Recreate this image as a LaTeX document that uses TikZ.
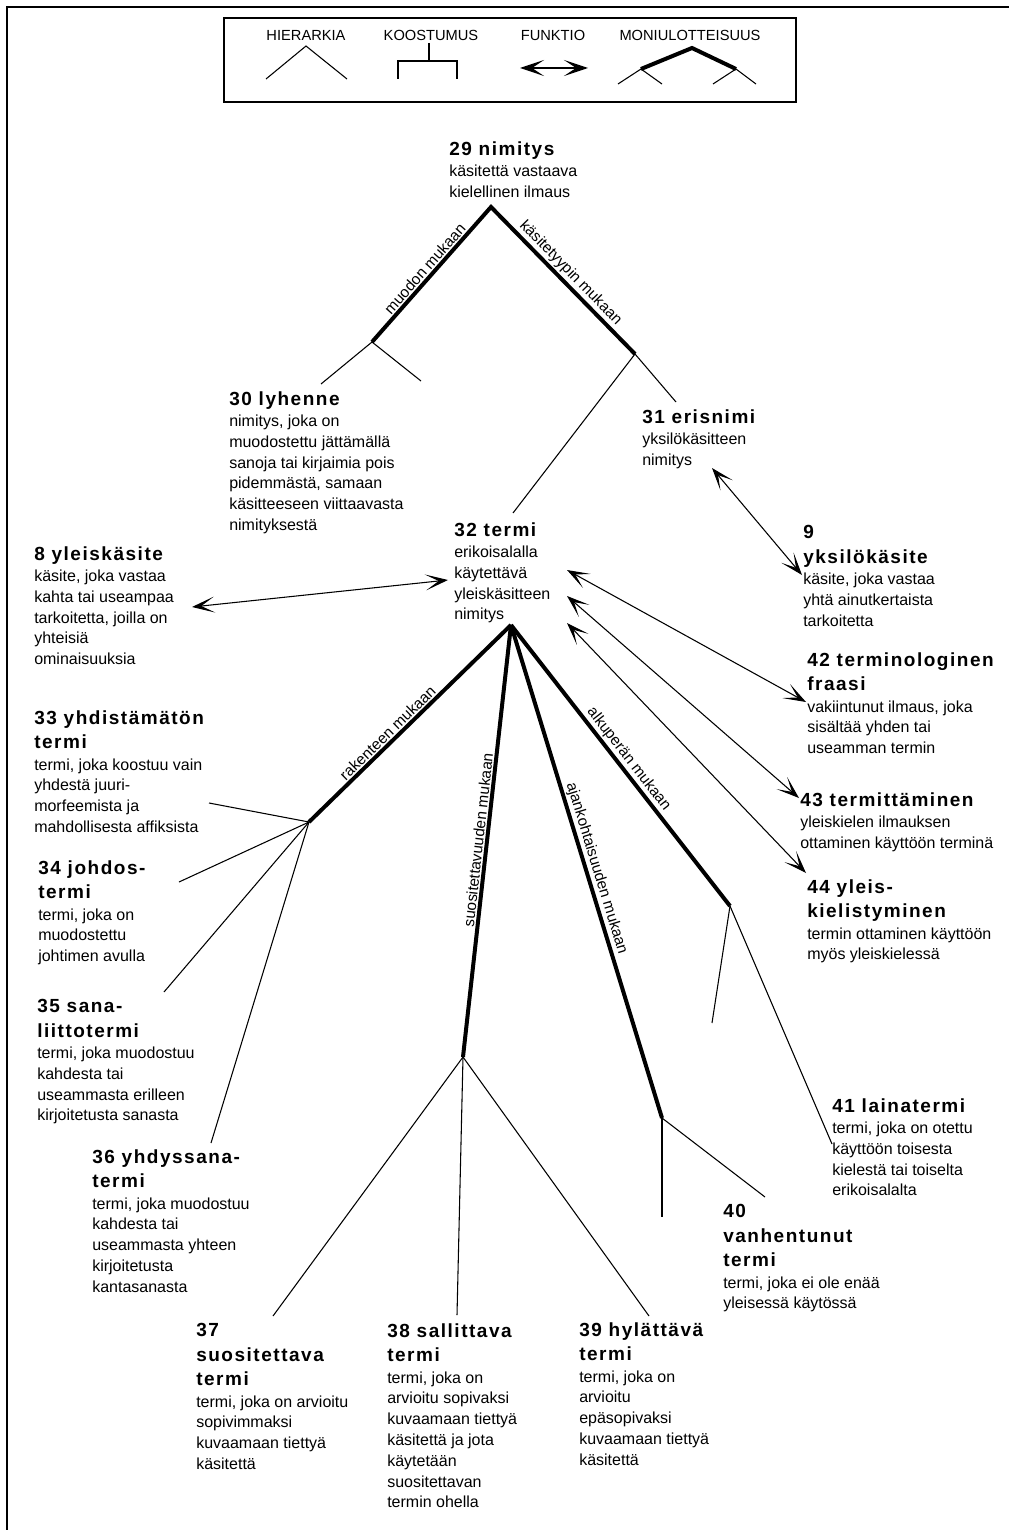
\documentclass[tikz,border=0pt]{standalone}
\usepackage{fontspec}
\setmainfont{Liberation Sans}
\newfontfamily\headfont[LetterSpace=8]{Liberation Sans}
\usetikzlibrary{arrows.meta}
\newcommand{\hd}[1]{{\headfont\bfseries\fontsize{14.25}{18}\selectfont #1}}
\tikzset{
  frame/.style={draw=black, line width=1.4pt},
  concept/.style={anchor=north west, inner sep=0pt, align=left,
    font=\fontsize{12}{15.6}\selectfont},
  hier/.style={line width=0.8pt},
  multi/.style={line width=3pt},
  crit/.style={sloped, above, inner sep=1pt, font=\fontsize{11.5}{13}\selectfont},
  func/.style={line width=0.8pt,
    {Stealth[length=17pt,width=12pt,inset=10pt]}-{Stealth[length=17pt,width=12pt,inset=10pt]}},
  legtxt/.style={anchor=base, inner sep=0pt, font=\fontsize{11}{13}\selectfont},
}

\begin{document}
\begin{tikzpicture}[x=0.75pt,y=-0.75pt]
  \useasboundingbox (0,0) rectangle (1008,1530);
  \draw[frame] (7,7) rectangle (1040,1560);

  % legend
  \draw[frame] (224,18) rectangle (796,102);
  \node[legtxt] (lhier) at (306,41) {HIERARKIA};
  \node[legtxt] (lkoos) at (431,41) {KOOSTUMUS};
  \node[legtxt] (lfunk) at (553,41) {FUNKTIO};
  \node[legtxt] (lmoni) at (690,41) {MONIULOTTEISUUS};
  \draw[hier] (266,79) -- (306,46) -- (347,79);
  \draw[hier] (429,43) -- (429,61);
  \draw[hier] (398,79) -- (398,61) -- (457,61) -- (457,79);
  \draw[line width=1pt, {Stealth[length=18pt,width=12pt,inset=9pt]}-{Stealth[length=18pt,width=12pt,inset=9pt]}]
    (520,68) -- (588,68);
  \draw[multi] (641,69) -- (692,48) -- (736,69);
  \draw[hier] (618,84) -- (641,69) -- (662,84);
  \draw[hier] (713,84) -- (736,69) -- (756,84);

  % concepts
  \node[concept] (n29) at (449,141) {\hd{29 nimitys}\\[0.5pt] käsitettä vastaava\\ kielellinen ilmaus};
  \node[concept] (n30) at (229,391) {\hd{30 lyhenne}\\[0.5pt] nimitys, joka on\\ muodostettu jättämällä\\ sanoja tai kirjaimia pois\\ pidemmästä, samaan\\ käsitteeseen viittaavasta\\ nimityksestä};
  \node[concept] (n31) at (642,409) {\hd{31 erisnimi}\\[0.5pt] yksilökäsitteen\\ nimitys};
  \node[concept] (n32) at (454,522) {\hd{32 termi}\\[0.5pt] erikoisalalla\\ käytettävä\\ yleiskäsitteen\\ nimitys};
  \node[concept] (n8) at (34,546) {\hd{8 yleiskäsite}\\[0.5pt] käsite, joka vastaa\\ kahta tai useampaa\\ tarkoitetta, joilla on\\ yhteisiä\\ ominaisuuksia};
  \node[concept] (n9) at (803,525) {\hd{9}\\[2.8pt] \hd{yksilökäsite}\\[0.5pt] käsite, joka vastaa\\ yhtä ainutkertaista\\ tarkoitetta};
  \node[concept] (n42) at (807,652) {\hd{42 terminologinen}\\[2.8pt] \hd{fraasi}\\[0.5pt] vakiintunut ilmaus, joka\\ sisältää yhden tai\\ useamman termin};
  \node[concept] (n43) at (800,792) {\hd{43 termittäminen}\\[0.5pt] yleiskielen ilmauksen\\ ottaminen käyttöön terminä};
  \node[concept] (n44) at (807,879) {\hd{44 yleis-}\\[2.8pt] \hd{kielistyminen}\\[0.5pt] termin ottaminen käyttöön\\ myös yleiskielessä};
  \node[concept] (n33) at (34,710) {\hd{33 yhdistämätön}\\[2.8pt] \hd{termi}\\[0.5pt] termi, joka koostuu vain\\ yhdestä juuri-\\ morfeemista ja\\ mahdollisesta affiksista};
  \node[concept] (n34) at (38,860) {\hd{34 johdos-}\\[2.8pt] \hd{termi}\\[0.5pt] termi, joka on\\ muodostettu\\ johtimen avulla};
  \node[concept] (n35) at (37,999) {\hd{35 sana-}\\[2.8pt] \hd{liittotermi}\\[0.5pt] termi, joka muodostuu\\ kahdesta tai\\ useammasta erilleen\\ kirjoitetusta sanasta};
  \node[concept] (n36) at (92,1149) {\hd{36 yhdyssana-}\\[2.8pt] \hd{termi}\\[0.5pt] termi, joka muodostuu\\ kahdesta tai\\ useammasta yhteen\\ kirjoitetusta\\ kantasanasta};
  \node[concept] (n37) at (196,1323) {\hd{37}\\[2.8pt] \hd{suositettava}\\[2.8pt] \hd{termi}\\[0.5pt] termi, joka on arvioitu\\ sopivimmaksi\\ kuvaamaan tiettyä\\ käsitettä};
  \node[concept] (n38) at (387,1323) {\hd{38 sallittava}\\[2.8pt] \hd{termi}\\[0.5pt] termi, joka on\\ arvioitu sopivaksi\\ kuvaamaan tiettyä\\ käsitettä ja jota\\ käytetään\\ suositettavan\\ termin ohella};
  \node[concept] (n39) at (579,1322) {\hd{39 hylättävä}\\[2.8pt] \hd{termi}\\[0.5pt] termi, joka on\\ arvioitu\\ epäsopivaksi\\ kuvaamaan tiettyä\\ käsitettä};
  \node[concept] (n40) at (723,1204) {\hd{40}\\[2.8pt] \hd{vanhentunut}\\[2.8pt] \hd{termi}\\[0.5pt] termi, joka ei ole enää\\ yleisessä käytössä};
  \node[concept] (n41) at (832,1098) {\hd{41 lainatermi}\\[0.5pt] termi, joka on otettu\\ käyttöön toisesta\\ kielestä tai toiselta\\ erikoisalalta};

  % branch points and line ends
  \coordinate (a29) at (491,207);
  \coordinate (j30) at (372,342);
  \coordinate (j31) at (635,354);
  \coordinate (e30a) at (321,384);
  \coordinate (e30b) at (421,381);
  \coordinate (e31) at (676,402);
  \coordinate (e32) at (513,513);
  \coordinate (a32) at (511,625);
  \coordinate (j33) at (309,822);
  \coordinate (e33) at (209,803);
  \coordinate (e34) at (179,882);
  \coordinate (e35) at (164,992);
  \coordinate (e36) at (211,1143);
  \coordinate (j37) at (463,1057);
  \coordinate (e37) at (273,1316);
  \coordinate (e38) at (457,1315);
  \coordinate (e39) at (649,1316);
  \coordinate (j40) at (662,1118);
  \coordinate (e40a) at (662,1217);
  \coordinate (e40b) at (765,1197);
  \coordinate (j41) at (730,906);
  \coordinate (e41a) at (712,1023);
  \coordinate (e41b) at (832,1144);

  % upper tree
  \draw[multi] (j30) -- node[crit] {muodon mukaan} (a29)
    -- node[crit] {käsitetyypin mukaan} (j31);
  \draw[hier] (e30a) -- (j30) -- (e30b);
  \draw[hier] (e32) -- (j31) -- (e31);

  % lower tree
  \draw[multi] (a32) -- node[crit, pos=.58] {rakenteen mukaan} (j33);
  \draw[multi] (a32) -- node[crit] {suositettavuuden mukaan} (j37);
  \draw[multi] (a32) -- node[crit] {ajankohtaisuuden mukaan} (j40);
  \draw[multi] (a32) -- node[crit] {alkuperän mukaan} (j41);
  \foreach \e in {e33,e34,e35,e36} \draw[hier] (j33) -- (\e);
  \foreach \e in {e37,e38,e39} \draw[hier] (j37) -- (\e);
  \foreach \e in {e40a,e40b} \draw[hier] (j40) -- (\e);
  \foreach \e in {e41a,e41b} \draw[hier] (j41) -- (\e);

  % functional relations
  \coordinate (f8) at (192,607);
  \coordinate (f32a) at (448,580);
  \coordinate (f31) at (712,468);
  \coordinate (f9) at (802,575);
  \coordinate (f32b) at (567,570);
  \coordinate (f42) at (806,702);
  \coordinate (f32c) at (567,596);
  \coordinate (f43) at (799,798);
  \coordinate (f32d) at (567,623);
  \coordinate (f44) at (806,873);
  \draw[func] (f8) -- (f32a);
  \draw[func] (f31) -- (f9);
  \draw[func] (f32b) -- (f42);
  \draw[func] (f32c) -- (f43);
  \draw[func] (f32d) -- (f44);
\end{tikzpicture}
\end{document}
